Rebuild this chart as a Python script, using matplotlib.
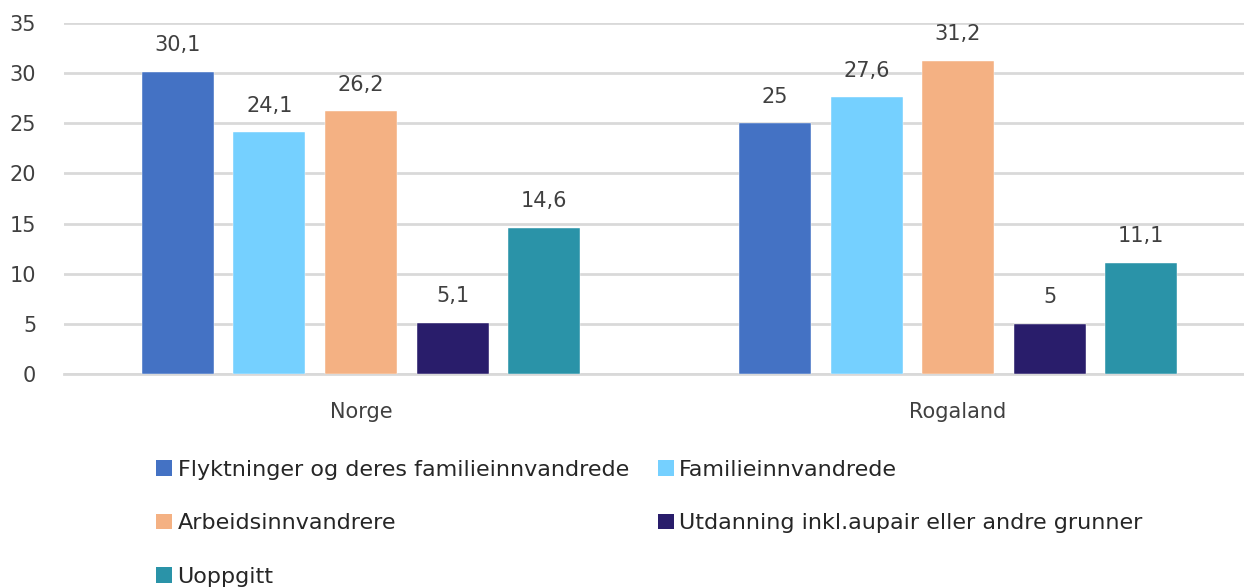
import numpy as np
import matplotlib.pyplot as plt
from matplotlib.patches import Patch

plt.rcParams['font.family'] = ['DejaVu Sans']

# Data
regions = ['Norge', 'Rogaland']
series = ['Flyktninger og deres familieinnvandrede', 'Familieinnvandrede',
          'Arbeidsinnvandrere', 'Utdanning inkl.aupair eller andre grunner',
          'Uoppgitt']
values = [
    [30.1, 25],
    [24.1, 27.6],
    [26.2, 31.2],
    [5.1, 5],
    [14.6, 11.1],
]
colors = ['#4472C4', '#75D0FF', '#F4B183', '#291D6B', '#2A93A8']

fig = plt.figure(figsize=(12.44, 5.87), dpi=100)
ax = fig.add_axes([64 / 1244, 1 - 374 / 587, 1 - 64 / 1244, 351 / 587])

x = np.arange(len(regions))
step = 0.1533
width = 0.1206
txt = '#404040'

for i, (name, vals, c) in enumerate(zip(series, values, colors)):
    pos = x + (i - 2) * step
    bars = ax.bar(pos, vals, width, color=c, edgecolor='white', linewidth=0.3,
                  zorder=3, label=name)
    for b, v in zip(bars, vals):
        lab = ('%g' % v).replace('.', ',')
        ax.annotate(lab, (b.get_x() + b.get_width() / 2, v), xytext=(0, 12),
                    textcoords='offset points', ha='center', va='bottom',
                    fontsize=15, color=txt)

ax.set_xlim(-0.4975, 1.479)
ax.set_ylim(0, 35)
ax.set_yticks(range(0, 36, 5))
ax.yaxis.grid(True, color='#d9d9d9', linewidth=2, zorder=0)
ax.set_xticks(x)
ax.set_xticklabels(regions)
ax.tick_params(axis='both', length=0, labelsize=15, colors=txt)
ax.tick_params(axis='x', pad=20)
ax.tick_params(axis='y', pad=20)
for s in ['top', 'right', 'left']:
    ax.spines[s].set_visible(False)
ax.spines['bottom'].set_color('#d9d9d9')
ax.spines['bottom'].set_linewidth(2)

# legend, filled row-wise like the original
handles = [Patch(facecolor=c) for c in colors]
order = [0, 2, 4, 1, 3]
fig.legend([handles[k] for k in order], [series[k] for k in order],
           ncol=2, loc='upper left', bbox_to_anchor=(136 / 1244, 1 - 440 / 587),
           frameon=False, fontsize=16, labelcolor='#262626',
           handlelength=0.72, handleheight=0.72, handletextpad=0.25,
           labelspacing=1.5, columnspacing=1.3)

fig.savefig('out.png', dpi=100)
